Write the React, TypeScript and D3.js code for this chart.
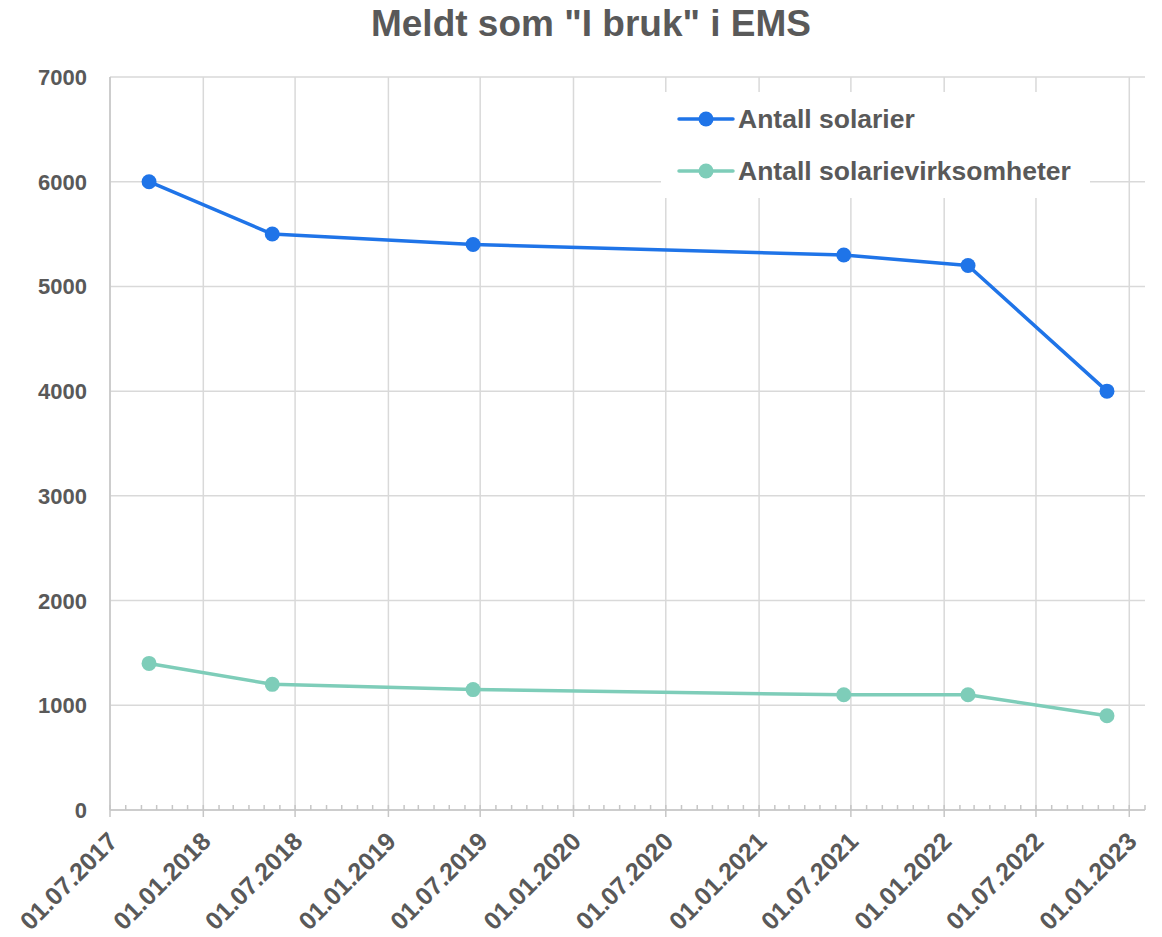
import React from "react";
import * as d3 from "d3";

const dates = ["2017-09-16", "2018-05-17", "2019-06-17", "2021-06-17", "2022-02-17", "2022-11-18"];
const solarier = [6000, 5500, 5400, 5300, 5200, 4000];
const virksomheter = [1400, 1200, 1150, 1100, 1100, 900];
const seriesNames = ["Antall solarier", "Antall solarievirksomheter"];
const seriesColors = ["#1f74e8", "#7ecdb9"];
const yTicks = [0, 1000, 2000, 3000, 4000, 5000, 6000, 7000];
const title = 'Meldt som "I bruk" i EMS';

const W = 1162, H = 937;
const left = 110, right = 1145, top = 77, bottom = 810;
const FONT = "'Liberation Sans', Arial, sans-serif";
const TXT = "#595959";

export default function App() {
  const parse = d3.utcParse("%Y-%m-%d");
  const x = d3.scaleUtc().domain([new Date(Date.UTC(2017, 6, 1)), new Date(Date.UTC(2023, 1, 1))]).range([left, right]);
  const y = d3.scaleLinear().domain([0, 7000]).range([bottom, top]);
  const majors = d3.utcMonth.every(6)!.range(new Date(Date.UTC(2017, 6, 1)), new Date(Date.UTC(2023, 1, 2)));
  const minors = d3.utcMonth.range(new Date(Date.UTC(2017, 6, 1)), new Date(Date.UTC(2023, 1, 2)));
  const fmt = d3.utcFormat("%d.%m.%Y");
  const series = [solarier, virksomheter].map((vals) => vals.map((v, i) => ({ d: parse(dates[i])!, v })));
  const line = d3.line<{ d: Date; v: number }>().x((p) => x(p.d)).y((p) => y(p.v));

  return (
    <svg width={W} height={H} style={{ display: "block", position: "absolute", left: 0, top: 0 }} fontFamily={FONT}>
      <rect width={W} height={H} fill="#fff" />
      <text x={591} y={36} textAnchor="middle" fontSize={37} fontWeight="bold" fill={TXT}>{title}</text>
      {/* grid */}
      {yTicks.map((t) => (
        <line key={"h" + t} x1={left} x2={right} y1={y(t)} y2={y(t)} stroke="#d9d9d9" strokeWidth={1.5} />
      ))}
      {majors.map((d, i) => (
        <line key={"v" + i} x1={x(d)} x2={x(d)} y1={top} y2={bottom} stroke="#d9d9d9" strokeWidth={1.5} />
      ))}
      <line x1={left} x2={left} y1={top} y2={bottom} stroke="#c6c6c6" strokeWidth={1.5} />
      {/* x axis */}
      <line x1={left} x2={right} y1={bottom} y2={bottom} stroke="#c6c6c6" strokeWidth={1.5} />
      {minors.map((d, i) => (
        <line key={"m" + i} x1={x(d)} x2={x(d)} y1={bottom - 5} y2={bottom} stroke="#c6c6c6" strokeWidth={1.5} />
      ))}
      {majors.map((d, i) => (
        <line key={"M" + i} x1={x(d)} x2={x(d)} y1={bottom} y2={bottom + 7} stroke="#c6c6c6" strokeWidth={1.5} />
      ))}
      {majors.map((d, i) => (
        <text key={"xl" + i} transform={`translate(${x(d) + 9},${bottom + 33}) rotate(-45)`} textAnchor="end"
          fontSize={25} fontWeight="bold" fill={TXT}>{fmt(d)}</text>
      ))}
      {yTicks.map((t) => (
        <text key={"yl" + t} x={87} y={y(t) + 8} textAnchor="end" fontSize={22} fontWeight="bold" fill={TXT}>{t}</text>
      ))}
      {/* series */}
      {series.map((s, k) => (
        <g key={"s" + k}>
          <path d={line(s)!} fill="none" stroke={seriesColors[k]} strokeWidth={3.5} strokeLinejoin="round" />
          {s.map((p, i) => (
            <circle key={i} cx={x(p.d)} cy={y(p.v)} r={7.5} fill={seriesColors[k]} />
          ))}
        </g>
      ))}
      {/* legend */}
      <rect x={661} y={92} width={429} height={106} fill="#fff" />
      {seriesNames.map((n, k) => (
        <g key={"lg" + k} transform={`translate(0,${119 + k * 52})`}>
          <line x1={679} x2={733} y1={0} y2={0} stroke={seriesColors[k]} strokeWidth={3.5} strokeLinecap="round" />
          <circle cx={706} cy={0} r={7.5} fill={seriesColors[k]} />
          <text x={738} y={9} fontSize={26.5} fontWeight="bold" fill={TXT}>{n}</text>
        </g>
      ))}
    </svg>
  );
}
